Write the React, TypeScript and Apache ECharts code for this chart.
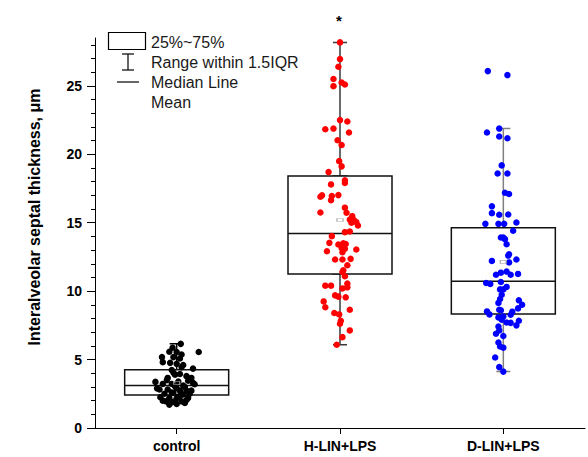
import React, { useEffect, useRef } from 'react';
import * as echarts from 'echarts';

const categories = ['control', 'H-LIN+LPS', 'D-LIN+LPS'];
const yMajorTicks = [0, 5, 10, 15, 20, 25];
const yMin = 0;
const yMax = 28.5;

// [whisker low, Q1, median, Q3, whisker high]
const controlBox = [1.83, 2.42, 3.1, 4.25, 6.15];
const hlinBox = [6.08, 11.26, 14.21, 18.41, 28.18];
const dlinBox = [4.12, 8.33, 10.72, 14.63, 21.88];
const means = [3.3, 15.2, 12.14];

const controlValues = [
  6.15, 5.86, 5.57, 5.55, 5.37, 5.55, 5.18, 5.18, 5.08, 4.81, 4.76, 4.69, 4.6, 4.34, 4.24,
  3.9, 3.95, 3.79, 3.66, 3.66, 3.3, 3.4, 3.22, 3.37, 3.22, 3.1, 3.05, 2.81, 2.81, 2.73,
  2.73, 2.73, 2.56, 2.5, 2.45, 2.5, 2.25, 2.2, 2.17, 2.2, 2.27, 1.95, 1.92, 1.95, 2.0,
  1.71, 1.75, 1.83, 2.6, 3.0, 2.9, 3.5, 3.45, 4.05, 4.45, 3.2, 2.9, 2.35, 2.05, 1.88,
];
const controlJitter = [
  0.025, -0.025, -0.045, 0.0, 0.03, 0.135, -0.09, -0.02, 0.02, -0.085, -0.04, 0.0, 0.04, 0.1, -0.03,
  -0.01, 0.02, 0.06, 0.09, -0.055, 0.1, 0.01, -0.03, -0.13, -0.085, 0.04, -0.01, -0.105, -0.055, 0.06,
  0.02, 0.09, -0.02, -0.075, 0.04, 0.08, -0.1, -0.045, 0.0, 0.07, 0.01, -0.065, -0.02, 0.03, -0.085,
  -0.045, 0.0, 0.05, -0.03, 0.05, 0.0, -0.06, 0.07, -0.02, 0.03, 0.11, -0.12, 0.02, 0.06, -0.03,
];

const hlinValues = [
  28.18, 26.96, 26.4, 25.5, 24.98, 25.25, 25.1, 22.5, 22.4, 21.83, 21.88, 21.59, 21.03, 20.68, 19.5,
  19.12, 18.7, 18.1, 17.9, 17.8, 17.0, 16.9, 16.95, 16.65, 17.02, 15.75, 16.1, 15.73, 15.48, 15.23,
  15.19, 15.04, 14.8, 15.0, 14.36, 14.31, 14.02, 13.53, 13.41, 13.5, 13.45, 13.16, 13.1, 12.92, 13.04,
  12.85, 12.31, 12.31, 12.36, 11.89, 11.52, 11.4, 11.09, 10.4, 10.4, 10.55, 10.28, 10.2, 9.69, 9.6,
  9.55, 9.25, 8.82, 8.64, 8.4, 8.3, 7.84, 7.62, 7.13, 6.64, 6.08,
];
const hlinJitter = [
  0.0, 0.0, -0.01, -0.04, -0.04, 0.01, 0.03, 0.0, 0.045, -0.09, -0.04, 0.055, -0.015, 0.01, -0.005,
  0.01, -0.07, 0.03, 0.03, -0.055, -0.11, -0.12, -0.05, -0.055, -0.01, -0.12, 0.03, 0.04, 0.075, 0.06,
  0.085, 0.1, 0.11, 0.07, 0.06, 0.03, -0.05, -0.065, -0.01, 0.02, 0.035, 0.01, 0.03, -0.08, 0.1,
  0.015, -0.03, 0.015, 0.065, 0.045, 0.02, 0.015, 0.03, -0.09, -0.055, 0.045, 0.045, 0.015, -0.03, -0.01,
  0.035, -0.1, -0.09, 0.06, -0.035, -0.005, 0.005, 0.0, 0.06, 0.015, -0.02,
];

const dlinValues = [
  26.08, 25.79, 21.59, 21.88, 21.3, 21.17, 19.19, 18.6, 18.6, 17.19, 17.1, 16.2, 15.7, 15.58, 15.6,
  14.92, 14.92, 14.92, 15.02, 14.41, 13.92, 13.92, 13.8, 13.43, 12.7, 12.6, 12.21, 12.1, 12.31, 11.43,
  11.35, 11.2, 11.26, 11.2, 10.67, 10.6, 10.53, 10.31, 10.13, 10.13, 9.74, 9.43, 9.14, 9.33, 9.01,
  8.74, 8.64, 8.6, 8.52, 8.3, 8.5, 8.28, 8.15, 8.08, 7.91, 7.71, 7.68, 7.84, 7.5, 7.42,
  7.13, 6.89, 6.72, 6.25, 5.96, 5.87, 5.15, 4.45, 4.12,
];
const dlinJitter = [
  -0.095, 0.025, -0.1, -0.025, -0.025, 0.025, -0.01, -0.035, 0.025, 0.01, 0.035, -0.07, -0.07, -0.025, 0.03,
  -0.11, -0.03, 0.005, 0.08, 0.06, -0.015, 0.0, 0.01, 0.02, 0.035, 0.03, -0.07, 0.035, 0.08, 0.02,
  -0.015, 0.045, 0.09, -0.045, -0.015, -0.105, -0.08, 0.02, -0.02, 0.0, -0.01, -0.02, -0.03, 0.095, 0.115,
  0.09, -0.025, -0.015, -0.1, -0.085, 0.055, 0.045, 0.0, -0.03, -0.01, 0.02, 0.045, 0.095, 0.08, -0.03,
  -0.025, -0.045, 0.0, -0.03, -0.02, 0.0, -0.05, -0.025, 0.0,
];

const boxes = [controlBox, hlinBox, dlinBox];
const groupValues = [controlValues, hlinValues, dlinValues];
const groupJitter = [controlJitter, hlinJitter, dlinJitter];
const pointColors = ['#000000', '#ff0000', '#0000ff'];
const whiskerColors = ['#000000', '#3a3a3a', '#808080'];

const FONT = '"Liberation Sans", Arial, sans-serif';

export default function App() {
  const ref = useRef<HTMLDivElement>(null);

  useEffect(() => {
    if (!ref.current) return;
    const chart = echarts.init(ref.current, undefined, { renderer: 'svg' });

    const minorTicks = Array.from({ length: 29 }, (_, i) => i);

    const scatterSeries = groupValues.map((vals, g) => ({
      type: 'scatter',
      xAxisIndex: 1,
      yAxisIndex: 0,
      silent: true,
      symbol: 'circle',
      symbolSize: 6.5,
      itemStyle: { color: pointColors[g], opacity: 1 },
      data: vals.map((v, i) => [g + 1 + groupJitter[g][i], v]),
      z: 3,
    }));

    const option: any = {
      animation: false,
      backgroundColor: '#ffffff',
      grid: { left: 95, right: 3, top: 38, bottom: 29, containLabel: false, outerBoundsMode: 'none' },
      xAxis: [
        {
          type: 'category',
          data: categories,
          boundaryGap: true,
          axisLine: { show: true, lineStyle: { color: '#000', width: 1 } },
          axisTick: { show: true, alignWithLabel: true, inside: false, length: 6, lineStyle: { color: '#000' } },
          axisLabel: { color: '#000', fontWeight: 'bold', fontSize: 14, fontFamily: FONT, margin: 11 },
          splitLine: { show: false },
        },
        {
          type: 'value',
          min: 0.5,
          max: 3.5,
          show: false,
        },
        {
          type: 'category',
          data: categories,
          boundaryGap: true,
          show: false,
        },
      ],
      yAxis: [
        {
          type: 'value',
          min: yMin,
          max: yMax,
          position: 'left',
          axisLine: { show: true, lineStyle: { color: '#000', width: 1 } },
          axisTick: { show: true, inside: false, length: 8, customValues: yMajorTicks, lineStyle: { color: '#000' } },
          axisLabel: {
            color: '#000', fontWeight: 'bold', fontSize: 14, fontFamily: FONT, margin: 13,
            customValues: yMajorTicks,
          },
          splitLine: { show: false },
        },
        {
          type: 'value',
          min: yMin,
          max: yMax,
          position: 'left',
          axisLine: { show: false },
          axisTick: { show: true, inside: false, length: 4, customValues: minorTicks, lineStyle: { color: '#000' } },
          axisLabel: { show: false },
          splitLine: { show: false },
        },
      ],
      series: [
        {
          type: 'boxplot',
          xAxisIndex: 2,
          yAxisIndex: 0,
          silent: true,
          boxWidth: [14, 14],
          itemStyle: { color: '#fff', borderColor: '#000', borderWidth: 1.5 },
          data: boxes.map((b, i) => ({ value: b, itemStyle: { borderColor: whiskerColors[i] } })),
          z: 1,
        },
        {
          type: 'boxplot',
          xAxisIndex: 0,
          yAxisIndex: 0,
          silent: true,
          boxWidth: [104, 104],
          itemStyle: { color: '#fff', borderColor: '#111', borderWidth: 1.5 },
          data: boxes.map((b) => [b[1], b[1], b[2], b[3], b[3]]),
          z: 2,
        },
        ...scatterSeries,
        {
          type: 'scatter',
          xAxisIndex: 1,
          yAxisIndex: 0,
          silent: true,
          symbol: 'rect',
          symbolSize: [6, 3],
          itemStyle: { color: 'rgba(0,0,0,0)', borderColor: '#a0a0a0', borderWidth: 1 },
          data: means.map((m, i) => [i + 1, m]),
          z: 4,
        },
      ],
      graphic: [
        {
          type: 'text',
          x: 34,
          y: 217,
          rotation: Math.PI / 2,
          style: {
            text: 'Interalveolar septal thickness, μm',
            fontFamily: FONT,
            fontWeight: 'bold',
            fontSize: 16,
            fill: '#000',
            align: 'center',
            verticalAlign: 'middle',
          },
        },
        {
          type: 'text',
          x: 339,
          y: 20,
          style: { text: '*', fontFamily: FONT, fontWeight: 'bold', fontSize: 15, fill: '#000', align: 'center', verticalAlign: 'middle' },
        },
        {
          type: 'rect',
          shape: { x: 108.5, y: 32.5, width: 37, height: 17 },
          style: { fill: '#fff', stroke: '#000', lineWidth: 1.2 },
        },
        {
          type: 'line',
          shape: { x1: 128, y1: 54, x2: 128, y2: 70 },
          style: { stroke: '#000', lineWidth: 1.2 },
        },
        {
          type: 'line',
          shape: { x1: 122, y1: 54, x2: 134, y2: 54 },
          style: { stroke: '#000', lineWidth: 1.2 },
        },
        {
          type: 'line',
          shape: { x1: 122, y1: 70, x2: 134, y2: 70 },
          style: { stroke: '#000', lineWidth: 1.2 },
        },
        {
          type: 'line',
          shape: { x1: 117, y1: 82, x2: 139, y2: 82 },
          style: { stroke: '#000', lineWidth: 1.2 },
        },
        ...['25%~75%', 'Range within 1.5IQR', 'Median Line', 'Mean'].map((t, i) => ({
          type: 'text',
          x: 151,
          y: 42 + i * 20,
          style: { text: t, fontFamily: FONT, fontSize: 16, fill: '#1a1a1a', align: 'left', verticalAlign: 'middle' },
        })),
      ],
    };

    chart.setOption(option);
    return () => chart.dispose();
  }, []);

  return (
    <div
      ref={ref}
      style={{ position: 'absolute', left: 0, top: 0, width: 588, height: 457, background: '#fff' }}
    />
  );
}
